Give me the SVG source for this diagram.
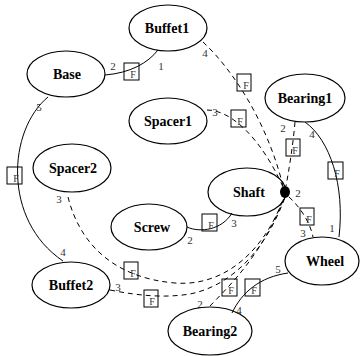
<svg xmlns="http://www.w3.org/2000/svg" width="360" height="356" viewBox="0 0 360 356">
  <style>
    .node ellipse { fill: none; stroke: #000; stroke-width: 1.2; }
    .edge { fill: none; stroke: #000; stroke-width: 1; }
    .dash { stroke-dasharray: 5 4; }
    .fbox rect { fill: none; stroke: #000; stroke-width: 1; }
    text { font-family: "Liberation Serif", Tinos, "Times New Roman", Times, "DejaVu Serif", serif; }
  </style>
  <rect width="360" height="356" fill="#fff"/>

  <!-- connectors -->
  <g id="edges">
    <path class="edge" d="M158,50 C148,63 130,73 105,75"/>
    <path class="edge" d="M48,97 C8,130 2,220 63,261"/>
    <path class="edge dash" d="M203,42 C235,72 268,125 283,186"/>
    <path class="edge dash" d="M207,110 C232,110 262,140 283,187"/>
    <path class="edge dash" d="M295,122 C293,145 289,170 286,186"/>
    <path class="edge" d="M305,122 C330,140 345,185 339,237"/>
    <path class="edge dash" d="M289,197 C300,207 310,222 313,237"/>
    <path class="edge dash" d="M68,197 C80,245 115,278 175,283 C225,287 265,250 284,197"/>
    <path class="edge dash" d="M110,290 C140,296 165,298 190,294 C235,285 268,245 285,197"/>
    <path class="edge dash" d="M210,306 C230,285 262,255 284,198"/>
    <path class="edge" d="M232,313 C242,292 260,277 288,273"/>
    <path class="edge" d="M187,227 C200,233 222,230 232,213"/>

    <!-- link boxes -->
    <g class="fbox" font-size="10" fill="#333" text-anchor="middle">
      <g><rect x="124" y="63" width="15" height="17"/><text x="133" y="78">F</text></g>
      <g><rect x="237" y="74" width="14" height="17"/><text x="246" y="89">F</text></g>
      <g><rect x="231" y="110" width="15" height="17"/><text x="240" y="125">F</text></g>
      <g><rect x="286" y="139" width="14" height="17"/><text x="295" y="154">F</text></g>
      <g><rect x="328" y="162" width="15" height="17"/><text x="337" y="177">F</text></g>
      <g><rect x="300" y="208" width="14" height="17"/><text x="309" y="223">F</text></g>
      <g><rect x="7" y="167" width="15" height="17"/><text x="16" y="182">F</text></g>
      <g><rect x="124" y="262" width="14" height="17"/><text x="133" y="277">F</text></g>
      <g><rect x="144" y="290" width="14" height="17"/><text x="152" y="305">F</text></g>
      <g><rect x="202" y="214" width="15" height="17"/><text x="211" y="229">F</text></g>
      <g><rect x="222" y="279" width="15" height="17"/><text x="231" y="294">F</text></g>
      <g><rect x="245" y="279" width="15" height="17"/><text x="254" y="294">F</text></g>
    </g>

    <!-- port numbers -->
    <g font-size="11" fill="#333" text-anchor="middle">
      <text x="113" y="70">2</text>
      <text x="161" y="70">1</text>
      <text x="205" y="57">4</text>
      <text x="215" y="116">3</text>
      <text x="283" y="132">2</text>
      <text x="312" y="138">4</text>
      <text x="332" y="232">1</text>
      <text x="298" y="197">2</text>
      <text x="303" y="237">3</text>
      <text x="39" y="111">5</text>
      <text x="63" y="256">4</text>
      <text x="59" y="203">3</text>
      <text x="118" y="291">3</text>
      <text x="190" y="244">2</text>
      <text x="234" y="227">3</text>
      <text x="200" y="308">2</text>
      <text x="239" y="314">4</text>
      <text x="278" y="273">5</text>
    </g>
  </g>

  <!-- nodes -->
  <g font-weight="bold" font-size="14" fill="#000" text-anchor="middle">
    <g id="Buffet1" class="node"><ellipse cx="168" cy="28" rx="39" ry="23"/><text x="167" y="33">Buffet1</text></g>
    <g id="Base" class="node"><ellipse cx="66" cy="74" rx="39" ry="23"/><text x="67" y="79">Base</text></g>
    <g id="Spacer1" class="node"><ellipse cx="168" cy="121" rx="39" ry="23"/><text x="168" y="126">Spacer1</text></g>
    <g id="Bearing1" class="node"><ellipse cx="305" cy="98" rx="40" ry="24"/><text x="305" y="103">Bearing1</text></g>
    <g id="Spacer2" class="node"><ellipse cx="72" cy="168" rx="39" ry="24"/><text x="73" y="173">Spacer2</text></g>
    <g id="Shaft" class="node"><ellipse cx="247" cy="192" rx="39" ry="24"/><text x="249" y="197">Shaft</text></g>
    <g id="Screw" class="node"><ellipse cx="149" cy="227" rx="38" ry="23"/><text x="152" y="232">Screw</text></g>
    <g id="Buffet2" class="node"><ellipse cx="71" cy="285" rx="39" ry="23"/><text x="71" y="290">Buffet2</text></g>
    <g id="Wheel" class="node"><ellipse cx="322" cy="261" rx="37" ry="24"/><text x="325" y="266">Wheel</text></g>
    <g id="Bearing2" class="node"><ellipse cx="210" cy="331" rx="42" ry="24"/><text x="210" y="336">Bearing2</text></g>
    <g id="junction"><ellipse cx="285" cy="192" rx="5" ry="6" fill="#000"/></g>
  </g>
</svg>
